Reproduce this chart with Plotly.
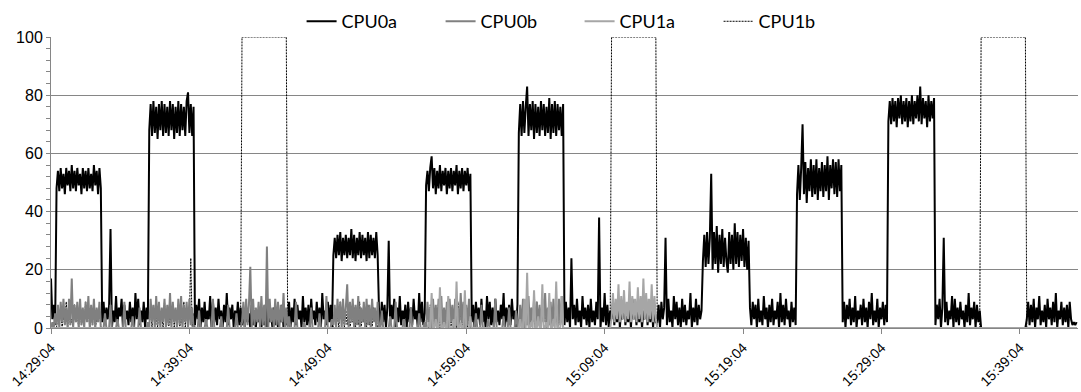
import pandas as pd
import plotly.graph_objects as go

# Sampling: one reading every 6 s starting at 14:29:04.
START = "2000-01-01 14:29:04"
STEP_S = 6

# Readings are grouped by phase: idle phases (12) alternate with load phases (11).
# idle[0], busy[0], idle[1], busy[1], ... , busy[10], idle[11]

cpu0a_idle = [
    [17, 3, 8, 1],
    [2, 9, 1, 7, 3, 8, 34, 0, 6, 2, 11, 1, 7, 4, 10, 0, 8, 3, 6, 1, 9, 2, 7, 0, 12, 3, 10, 1, 6, 2, 9, 0, 7, 3],
    [1, 8, 3, 10, 0, 7, 2, 9, 1, 6, 3, 11, 0, 9, 2, 7, 1, 10, 3, 6, 0, 8, 2, 12, 1, 7, 3, 8, 0, 6, 2, 9, 1, 7],
    [3, 9, 0, 7, 2, 10, 1, 8, 3, 6, 0, 11, 2, 7, 1, 8, 0, 10, 3, 6, 1, 9, 2, 7, 0, 12, 3, 6, 1, 9, 2, 8, 0],
    [6, 1, 9, 2, 8, 0, 7, 30, 1, 8, 3, 10, 0, 7, 2, 11, 1, 6, 3, 8, 0, 9, 2, 7, 1, 10, 3, 6, 0, 12, 2, 9, 1, 5],
    [2, 8, 0, 9, 3, 7, 1, 10, 2, 6, 0, 11, 3, 9, 1, 7, 0, 10, 2, 6, 1, 8, 3, 12, 0, 7, 2, 8, 1, 10, 3, 6, 0, 8],
    [1, 9, 2, 7, 0, 24, 3, 8, 1, 10, 2, 6, 0, 11, 3, 7, 1, 8, 0, 10, 2, 6, 1, 9, 3, 38, 0, 7, 2, 12, 1, 8, 0, 6],
    [2, 8, 0, 9, 3, 7, 31, 1, 10, 2, 6, 0, 11, 3, 9, 1, 7, 0, 10, 2, 8, 1, 6, 3, 12, 0, 7, 2, 10, 1, 8, 3, 6],
    [7, 1, 9, 3, 8, 0, 10, 2, 6, 1, 11, 3, 7, 0, 8, 2, 10, 1, 6, 3, 9, 0, 12, 2, 8, 1, 10, 3, 6, 0, 9, 2, 7, 1],
    [2, 9, 0, 8, 3, 10, 1, 7, 2, 11, 0, 6, 3, 8, 1, 10, 2, 7, 0, 9, 3, 12, 1, 6, 2, 10, 0, 7, 3, 9, 1, 8, 2],
    [1, 8, 3, 10, 0, 7, 31, 2, 9, 1, 6, 3, 11, 0, 10, 2, 7, 1, 9, 3, 6, 0, 8, 2, 12, 1, 7, 3, 9, 0, 8, 2, 6],
    [3, 9, 1, 8, 2, 10, 0, 7, 3, 11, 1, 6, 2, 8, 0, 10, 3, 7, 1, 9, 2, 12, 0, 6, 3, 9, 1, 7, 2, 8, 0, 9, 3, 1, 2, 1, 2],
]
cpu0a_busy = [
    [48, 54, 47, 55, 48, 53, 46, 55, 49, 54, 47, 56, 48, 54, 47, 55, 49, 53, 46, 55, 48, 54, 47, 55, 48, 53, 47, 56, 49, 54, 46, 55, 48],
    [68, 77, 66, 78, 67, 76, 65, 77, 68, 78, 66, 77, 67, 76, 66, 78, 68, 77, 65, 76, 67, 78, 66, 77, 68, 76, 66, 78, 81, 67, 77, 66, 76],
    [1, 6, 0, 7, 2, 5, 0, 8, 1, 4, 0, 6, 2, 7, 0, 5, 1, 8, 0, 6, 2, 5, 0, 7, 1, 6, 0, 4, 2, 8, 0, 6, 1],
    [25, 31, 24, 32, 25, 33, 23, 31, 25, 32, 24, 31, 25, 34, 24, 32, 23, 31, 25, 33, 24, 32, 25, 31, 23, 33, 24, 32, 25, 31, 24, 33, 25],
    [49, 54, 47, 55, 59, 48, 55, 46, 54, 48, 56, 47, 54, 49, 55, 46, 54, 48, 55, 47, 54, 49, 56, 46, 54, 48, 55, 47, 54, 49, 55, 47, 53],
    [67, 77, 66, 78, 67, 76, 83, 66, 77, 68, 78, 65, 77, 67, 76, 66, 78, 68, 77, 66, 76, 67, 79, 65, 77, 67, 78, 66, 77, 68, 76, 66, 77],
    [3, 9, 1, 8, 2, 10, 0, 7, 3, 9, 1, 6, 2, 8, 0, 10, 3, 7, 1, 9, 2, 8, 0, 6, 3, 10, 1, 7, 2, 9, 0, 8, 2],
    [23, 32, 21, 33, 22, 31, 53, 20, 33, 22, 35, 19, 32, 22, 34, 21, 31, 23, 19, 33, 22, 32, 20, 36, 22, 33, 21, 32, 23, 34, 21, 31, 20, 30],
    [46, 56, 44, 55, 70, 46, 57, 43, 55, 47, 58, 45, 56, 46, 58, 44, 55, 47, 57, 45, 56, 47, 59, 44, 56, 48, 58, 46, 57, 45, 58, 47, 56],
    [71, 78, 70, 79, 71, 78, 69, 79, 72, 80, 70, 78, 71, 79, 69, 78, 71, 80, 70, 78, 72, 80, 71, 83, 70, 79, 72, 78, 69, 80, 71, 78, 72, 79],
    [0] * 33,
]

cpu0b_idle = [
    [0, 2, 0, 5],
    [0, 0, 5, 0, 0, 0, 8, 0, 0, 0, 0, 3, 0, 0, 0, 0, 9, 0, 0, 0, 0, 0, 4, 0, 0, 0, 0, 7, 0, 0, 0, 0, 0, 2],
    [0, 0, 0, 6, 0, 0, 0, 0, 3, 0, 0, 0, 0, 10, 0, 0, 0, 0, 0, 4, 0, 0, 0, 0, 8, 0, 0, 0, 0, 0, 5, 0, 0, 0],
    [0, 4, 0, 0, 0, 0, 9, 0, 0, 0, 0, 0, 2, 0, 0, 0, 0, 7, 0, 0, 0, 0, 0, 5, 0, 0, 0, 0, 11, 0, 0, 0, 3],
    [0, 0, 6, 0, 0, 0, 0, 0, 4, 0, 0, 0, 9, 0, 0, 0, 0, 0, 3, 0, 0, 0, 0, 7, 0, 0, 0, 0, 0, 5, 0, 0, 0, 2],
    [0, 0, 0, 5, 0, 0, 0, 8, 0, 0, 0, 0, 3, 0, 0, 0, 0, 10, 0, 0, 0, 0, 0, 4, 0, 0, 0, 7, 0, 0, 0, 0, 6, 0],
    [0] * 34,
    [0] * 33,
    [0] * 34,
    [0] * 33,
    [0] * 33,
    [0] * 37,
]
cpu0b_busy = [
    [1, 8, 0, 9, 2, 10, 1, 7, 0, 10, 1, 17, 0, 8, 2, 9, 0, 10, 1, 7, 0, 9, 2, 11, 0, 8, 1, 10, 0, 7, 2, 9, 0],
    [0, 10, 2, 8, 0, 11, 1, 9, 0, 7, 2, 10, 0, 8, 1, 12, 0, 9, 2, 7, 0, 10, 1, 11, 0, 8, 2, 9, 0, 10, 1, 7, 0],
    [2, 9, 0, 10, 1, 8, 21, 0, 10, 1, 7, 2, 9, 0, 11, 1, 8, 0, 28, 0, 10, 2, 7, 0, 10, 1, 9, 0, 8, 2, 12, 0, 7],
    [1, 8, 0, 10, 2, 9, 0, 10, 1, 7, 15, 0, 9, 2, 10, 0, 8, 1, 11, 0, 7, 2, 9, 0, 10, 1, 8, 0, 10, 2, 7, 0, 9],
    [0, 9, 2, 7, 0, 10, 1, 8, 0, 10, 2, 11, 0, 7, 1, 9, 0, 10, 2, 8, 0, 10, 1, 7, 0, 12, 2, 9, 0, 8, 1, 10, 0],
    [2, 8, 0, 10, 0, 9, 1, 11, 0, 7, 2, 10, 0, 9, 1, 8, 0, 10, 2, 12, 0, 7, 1, 9, 0, 10, 2, 8, 0, 10, 1, 11, 0],
    [0] * 33,
    [0] * 34,
    [0] * 33,
    [0] * 34,
    [0] * 33,
]

cpu1a_idle = [
    [0] * 4, [0] * 34, [0] * 34, [0] * 33, [0] * 34, [0] * 34,
    [0] * 34, [0] * 33, [0] * 34, [0] * 33, [0] * 33, [0] * 37,
]
cpu1a_busy = [
    [0] * 33,
    [0] * 33,
    [0] * 33,
    [0] * 33,
    [0, 0, 2, 0, 12, 0, 0, 3, 0, 0, 14, 0, 0, 2, 0, 0, 11, 0, 0, 0, 3, 0, 16, 0, 0, 2, 0, 0, 13, 0, 0, 0, 4],
    [0, 3, 0, 0, 10, 0, 19, 0, 0, 2, 0, 13, 0, 0, 4, 0, 0, 15, 0, 0, 2, 0, 12, 0, 0, 3, 0, 16, 0, 0, 0, 11, 0],
    [3, 12, 2, 10, 3, 15, 2, 11, 3, 13, 2, 9, 3, 16, 2, 11, 3, 10, 2, 14, 3, 11, 2, 17, 3, 12, 2, 10, 3, 15, 2, 11, 3],
    [0] * 34,
    [0] * 33,
    [0] * 34,
    [0] * 33,
]

cpu1b_idle = [
    [0] * 4, [0] * 34, [0] * 34, [0] * 33, [0] * 34, [0] * 34,
    [0] * 34, [0] * 33, [0] * 34, [0] * 33, [0] * 33, [0] * 37,
]
cpu1b_busy = [
    [0, 5, 1, 7, 0, 4, 2, 9, 0, 6, 1, 3, 0, 8, 2, 5, 0, 7, 1, 4, 0, 9, 2, 6, 0, 5, 1, 8, 0, 3, 2, 7, 0],
    [1, 6, 0, 8, 2, 4, 0, 7, 1, 5, 0, 9, 2, 6, 0, 4, 1, 8, 0, 5, 2, 7, 0, 3, 1, 9, 0, 6, 2, 4, 24, 0, 5],
    [100] * 33,
    [0, 7, 1, 4, 0, 9, 2, 5, 0, 6, 1, 8, 0, 3, 2, 7, 0, 5, 1, 9, 0, 4, 2, 6, 0, 8, 1, 5, 0, 7, 2, 3, 0],
    [2, 5, 0, 8, 1, 6, 0, 4, 2, 9, 0, 7, 1, 5, 0, 3, 2, 8, 0, 6, 1, 4, 0, 9, 2, 5, 0, 7, 1, 3, 0, 8, 1],
    [0, 6, 2, 4, 0, 8, 1, 5, 0, 7, 2, 3, 0, 9, 1, 6, 0, 4, 2, 8, 0, 5, 1, 7, 0, 3, 2, 9, 0, 6, 1, 4, 0],
    [100] * 33,
    [0] * 34,
    [0] * 33,
    [0] * 34,
    [100] * 33,
]


def join_phases(idle, busy):
    out = []
    for k, seg in enumerate(idle):
        out.extend(seg)
        if k < len(busy):
            out.extend(busy[k])
    return out


series = {
    "CPU0a": join_phases(cpu0a_idle, cpu0a_busy),
    "CPU0b": join_phases(cpu0b_idle, cpu0b_busy),
    "CPU1a": join_phases(cpu1a_idle, cpu1a_busy),
    "CPU1b": join_phases(cpu1b_idle, cpu1b_busy),
}
n = min(len(v) for v in series.values())
times = pd.date_range(START, periods=n, freq=f"{STEP_S}s")

styles = {
    "CPU0a": dict(color="#000000", width=2, simplify=False),
    "CPU0b": dict(color="#808080", width=2, simplify=False),
    "CPU1a": dict(color="#a6a6a6", width=2, simplify=False),
    "CPU1b": dict(color="#000000", width=1, dash="2px,1px", simplify=False),
}
rank = {"CPU0a": 1, "CPU0b": 2, "CPU1a": 3, "CPU1b": 4}
draw_order = ["CPU1b", "CPU0a", "CPU0b", "CPU1a"]

fig = go.Figure()
for name in draw_order:
    fig.add_trace(go.Scatter(
        x=times, y=series[name][:n], name=name, mode="lines",
        line=styles[name], legendrank=rank[name], hoverinfo="skip",
    ))

AX = "#868686"
tick_font = dict(family="Liberation Sans, Arial, sans-serif", size=14, color="#000000")

fig.update_layout(
    width=1081, height=392,
    margin=dict(l=51, r=3, t=36, b=57),
    paper_bgcolor="white", plot_bgcolor="white",
    showlegend=True,
    legend=dict(
        orientation="h", x=0.244, xanchor="left", y=1.053, yanchor="middle",
        font=dict(family="Lato, Carlito, sans-serif", size=18, color="#000000"),
        entrywidth=94, itemwidth=30, traceorder="normal",
        bgcolor="rgba(0,0,0,0)",
    ),
    xaxis=dict(
        type="date",
        range=["2000-01-01 14:29:04", "2000-01-01 15:43:16"],
        tick0="2000-01-01 14:29:04", dtick=600000, tickformat="%H:%M:%S",
        tickangle=-45, ticks="outside", ticklen=5, tickcolor=AX,
        showline=True, linecolor=AX, linewidth=1,
        showgrid=False, zeroline=False, tickfont=tick_font,
    ),
    yaxis=dict(
        range=[0, 100], dtick=20, tick0=0,
        showgrid=True, gridcolor=AX, gridwidth=1,
        showline=True, linecolor=AX, linewidth=1,
        ticks="outside", ticklen=4, tickcolor=AX,
        minor=dict(dtick=4, ticks="outside", ticklen=4, tickcolor=AX, showgrid=False),
        zeroline=False, tickfont=dict(family="Liberation Sans, Arial, sans-serif", size=16, color="#000000"),
    ),
    yaxis2=dict(
        overlaying="y", anchor="x", side="left", range=[0, 100], dtick=20, tick0=0,
        ticks="inside", ticklen=3, tickcolor=AX, showticklabels=False,
        minor=dict(dtick=4, ticks="inside", ticklen=3, tickcolor=AX, showgrid=False),
        showgrid=False, zeroline=False, showline=False,
    ),
)

fig.write_html("out.html")
